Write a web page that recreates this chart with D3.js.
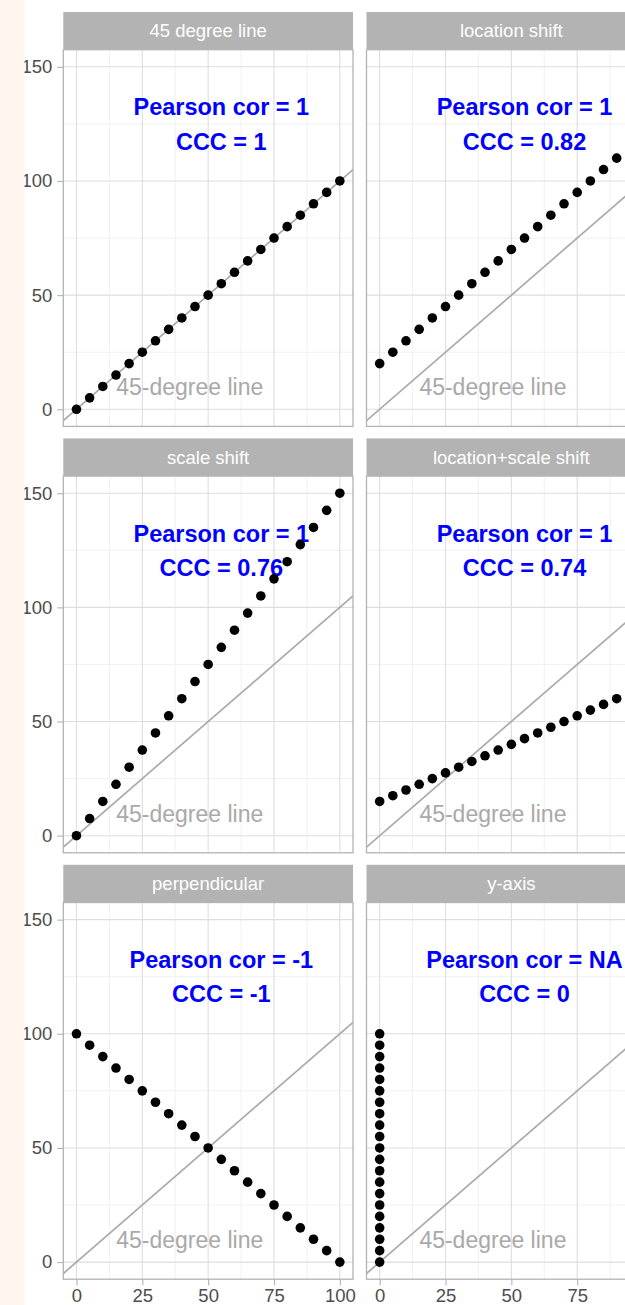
<!DOCTYPE html>
<html>
<head>
<meta charset="utf-8">
<script src="https://cdn.jsdelivr.net/npm/d3@7"></script>
<style>
  body { margin: 0; background: #ffffff; }
  svg text { font-family: "Liberation Sans", Arial, sans-serif; }
</style>
</head>
<body>
<div id="chartdiv"></div>
<script>
/*global d3 */

//facet titles, in facet_wrap order (2 columns)
var panelNames = ["45 degree line", "location shift", "scale shift",
                  "location+scale shift", "perpendicular", "y-axis"];

var xVals = [0, 5, 10, 15, 20, 25, 30, 35, 40, 45, 50,
             55, 60, 65, 70, 75, 80, 85, 90, 95, 100];
var xZeros = [0, 0, 0, 0, 0, 0, 0, 0, 0, 0, 0,
              0, 0, 0, 0, 0, 0, 0, 0, 0, 0];

var yIdentity = [0, 5, 10, 15, 20, 25, 30, 35, 40, 45, 50,
                 55, 60, 65, 70, 75, 80, 85, 90, 95, 100];
var yLocation = [20, 25, 30, 35, 40, 45, 50, 55, 60, 65, 70,
                 75, 80, 85, 90, 95, 100, 105, 110, 115, 120];
var yScaled = [0, 7.5, 15, 22.5, 30, 37.5, 45, 52.5, 60, 67.5, 75,
               82.5, 90, 97.5, 105, 112.5, 120, 127.5, 135, 142.5, 150];
var yLocScale = [15, 17.5, 20, 22.5, 25, 27.5, 30, 32.5, 35, 37.5, 40,
                 42.5, 45, 47.5, 50, 52.5, 55, 57.5, 60, 62.5, 65];
var yPerp = [100, 95, 90, 85, 80, 75, 70, 65, 60, 55, 50,
             45, 40, 35, 30, 25, 20, 15, 10, 5, 0];

var pearsonLabels = ["1", "1", "1", "1", "-1", "NA"];
var cccLabels = ["1", "0.82", "0.76", "0.74", "-1", "0"];

var xTicks = [0, 25, 50, 75, 100];
var xMinor = [12.5, 37.5, 62.5, 87.5];
var yTicks = [0, 50, 100, 150];
var yMinor = [25, 75, 125];


var chart = (function () {
    "use strict";

    var W = 625, H = 1305,
        lay = {left: 63.3, colGap: 13.5, pw: 289.7, top: 12,
               stripH: 37.7, ph: 376.7, rowGap: 12},
        x = d3.scaleLinear().domain([-5, 105]).range([0, lay.pw]),
        y = d3.scaleLinear().domain([-7.5, 157.5]).range([lay.ph, 0]);

    function panelData () {
        var ys = [yIdentity, yLocation, yScaled, yLocScale, yPerp, yIdentity];
        return panelNames.map(function (name, i) {
            var xs = (i === 5) ? xZeros : xVals;
            return {name: name, idx: i, col: i % 2, row: Math.floor(i / 2),
                    pts: xs.map(function (xv, j) {
                        return {x: xv, y: ys[i][j]}; }),
                    pearson: pearsonLabels[i], ccc: cccLabels[i]};
        });
    }


    function drawGrid (g) {
        g.selectAll("line.minx").data(xMinor).enter().append("line")
            .attr("x1", x).attr("x2", x).attr("y1", 0).attr("y2", lay.ph)
            .attr("stroke", "#ebebeb").attr("stroke-width", 0.7);
        g.selectAll("line.miny").data(yMinor).enter().append("line")
            .attr("y1", y).attr("y2", y).attr("x1", 0).attr("x2", lay.pw)
            .attr("stroke", "#ebebeb").attr("stroke-width", 0.7);
        g.selectAll("line.majx").data(xTicks).enter().append("line")
            .attr("x1", x).attr("x2", x).attr("y1", 0).attr("y2", lay.ph)
            .attr("stroke", "#dedede").attr("stroke-width", 1.1);
        g.selectAll("line.majy").data(yTicks).enter().append("line")
            .attr("y1", y).attr("y2", y).attr("x1", 0).attr("x2", lay.pw)
            .attr("stroke", "#dedede").attr("stroke-width", 1.1);
    }


    function drawPanel (svg, pd) {
        var px = lay.left + pd.col * (lay.pw + lay.colGap),
            py = lay.top + pd.row * (lay.stripH + lay.ph + lay.rowGap),
            g, plot, cid = "clip" + pd.idx, cy, visTicks;
        g = svg.append("g").attr("transform", "translate(" + px + "," + py + ")");
        //strip
        g.append("rect").attr("width", lay.pw).attr("height", lay.stripH)
            .attr("fill", "#b3b3b3");
        g.append("text").attr("x", lay.pw / 2).attr("y", lay.stripH / 2 + 6.6)
            .attr("text-anchor", "middle").attr("font-size", 18.5)
            .attr("fill", "#ffffff").text(pd.name);
        plot = g.append("g").attr("transform", "translate(0," + lay.stripH + ")");
        plot.append("clipPath").attr("id", cid).append("rect")
            .attr("width", lay.pw).attr("height", lay.ph);
        drawGrid(plot);
        //45-degree reference line
        plot.append("line").attr("clip-path", "url(#" + cid + ")")
            .attr("x1", x(-5)).attr("y1", y(-5))
            .attr("x2", x(105)).attr("y2", y(105))
            .attr("stroke", "#aaaaaa").attr("stroke-width", 1.7);
        plot.append("text").attr("x", x(43)).attr("y", y(10) + 8.8)
            .attr("text-anchor", "middle").attr("font-size", 23)
            .attr("fill", "#a9a9a9").text("45-degree line");
        cy = y(125);
        plot.append("text").attr("x", x(55)).attr("y", cy - 8.4)
            .attr("text-anchor", "middle").attr("font-size", 23.5)
            .attr("font-weight", "bold").attr("fill", "#0000ff")
            .text("Pearson cor = " + pd.pearson);
        plot.append("text").attr("x", x(55)).attr("y", cy + 25.8)
            .attr("text-anchor", "middle").attr("font-size", 23.5)
            .attr("font-weight", "bold").attr("fill", "#0000ff")
            .text("CCC = " + pd.ccc);
        plot.selectAll("circle").data(pd.pts).enter().append("circle")
            .attr("clip-path", "url(#" + cid + ")")
            .attr("cx", function (d) { return x(d.x); })
            .attr("cy", function (d) { return y(d.y); })
            .attr("r", 4.8).attr("fill", "#000000");
        plot.append("rect").attr("width", lay.pw).attr("height", lay.ph)
            .attr("fill", "none").attr("stroke", "#b3b3b3")
            .attr("stroke-width", 1.3);
        //axes: y on left column, x on bottom row
        if(pd.col === 0) {
            plot.append("g").call(d3.axisLeft(y).tickValues(yTicks)
                                  .tickSize(6).tickPadding(5))
                .call(styleAxis); }
        if(pd.row === 2) {
            //labels past the right edge of the page are not drawn
            visTicks = xTicks.filter(function (t) {
                return px + x(t) + 16 < W; });
            plot.append("g").attr("transform", "translate(0," + lay.ph + ")")
                .call(d3.axisBottom(x).tickValues(visTicks)
                      .tickSize(6).tickPadding(4))
                .call(styleAxis); }
    }


    function styleAxis (ax) {
        ax.select(".domain").remove();
        ax.selectAll(".tick line").attr("stroke", "#b3b3b3")
            .attr("stroke-width", 1.1);
        ax.selectAll(".tick text").attr("fill", "#4d4d4d")
            .attr("font-size", 18.5)
            .attr("font-family", "\"Liberation Sans\", Arial, sans-serif");
    }


    function display () {
        var svg = d3.select("#chartdiv").append("svg")
            .attr("width", W).attr("height", H);
        svg.append("rect").attr("width", W).attr("height", H)
            .attr("fill", "#ffffff");
        panelData().forEach(function (pd) {
            drawPanel(svg, pd); });
        //page margin strip on the left covers part of the tick labels
        svg.append("rect").attr("width", 24.5).attr("height", H)
            .attr("fill", "#fef6ef");
    }


return {
    init: function () {
        display();
    }
};
}());

chart.init();
</script>
</body>
</html>
